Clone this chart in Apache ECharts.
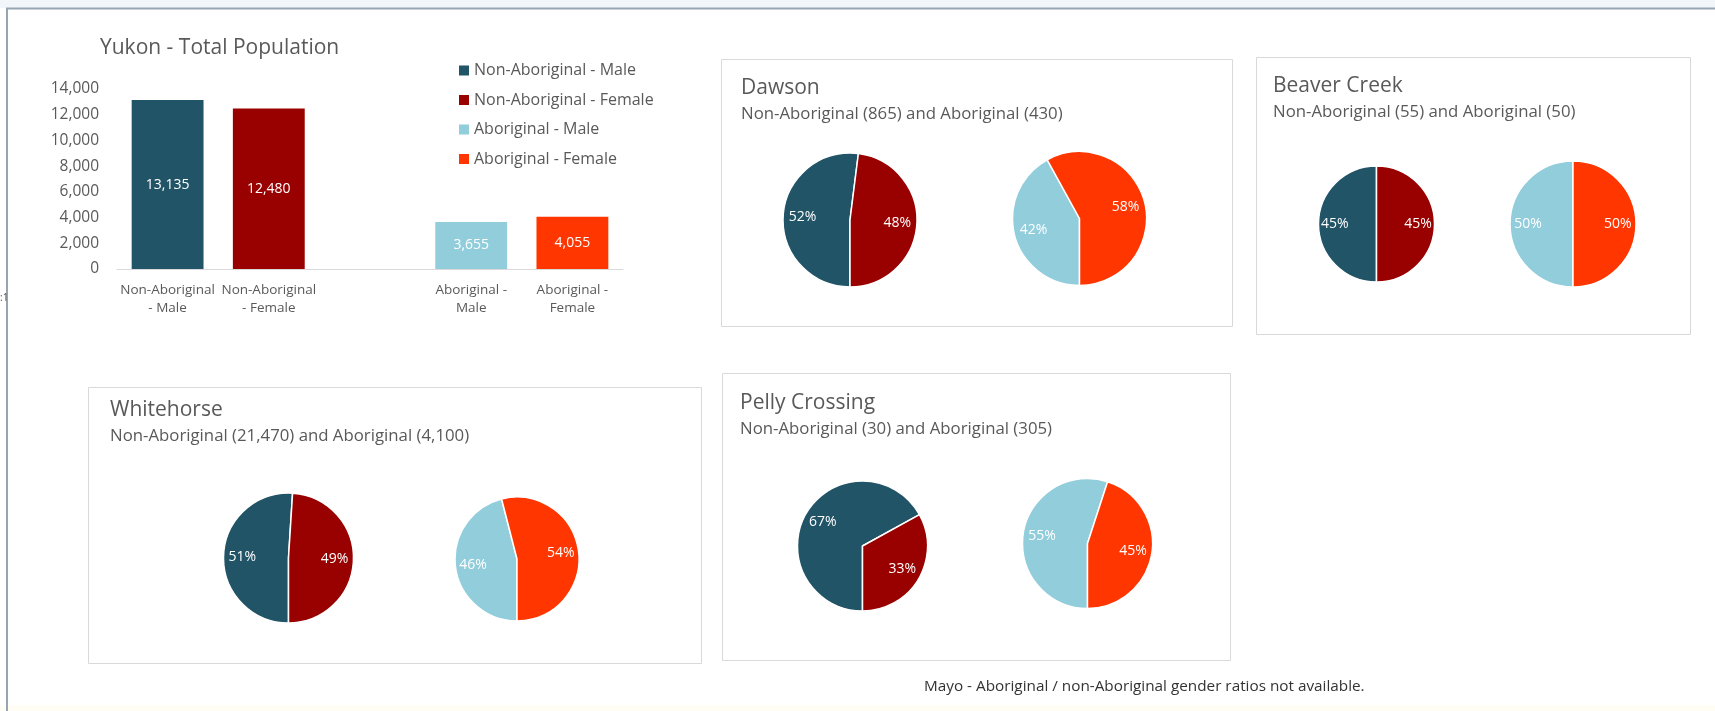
<!DOCTYPE html>
<html><head><meta charset="utf-8">
<script src="https://cdn.jsdelivr.net/npm/echarts@6/dist/echarts.min.js"></script>
<style>html,body{margin:0;padding:0;background:#fff}#c{width:1715px;height:711px}</style>
</head><body><div id="c"></div>
<script>
// ---------- data ----------
const barCategories = ['Non-Aboriginal\n- Male', 'Non-Aboriginal\n- Female', '', 'Aboriginal -\nMale', 'Aboriginal -\nFemale'];
const groupNames = ['Non-Aboriginal - Male', 'Non-Aboriginal - Female', 'Aboriginal - Male', 'Aboriginal - Female'];
const groupSlots = [0, 1, 3, 4];
const yukonTotals = [13135, 12480, 3655, 4055];
const yAxisMax = 14000;
const yAxisStep = 2000;

const communities = ['Whitehorse', 'Dawson', 'Pelly Crossing', 'Beaver Creek'];
const nonAbCounts = [21470, 865, 30, 55];
const abCounts = [4100, 430, 305, 50];
const nonAbMalePct = [51, 52, 67, 45];
const nonAbFemalePct = [49, 48, 33, 45];
const abMalePct = [46, 42, 55, 50];
const abFemalePct = [54, 58, 45, 50];
const mayoNote = 'Mayo - Aboriginal / non-Aboriginal gender ratios not available.';

// ---------- styles / layout ----------
const palette = ['#215467', '#990000', '#92cddc', '#ff3600'];
const FONT = 'Open Sans';
const GRAY = '#595959';
const fmt = v => Number(v).toLocaleString('en-US');

const layout = {
  'Whitehorse':     { box: [88.5, 387.5, 613, 276], title: [110, 398], pies: [[288.5, 558, 65], [517, 559, 62]] },
  'Dawson':         { box: [721.5, 59.5, 511, 267], title: [741, 76],  pies: [[850, 220, 67], [1079.5, 218.5, 67]] },
  'Pelly Crossing': { box: [722.5, 373.5, 508, 287], title: [740, 391], pies: [[862.5, 546, 65], [1087.5, 543.5, 65]] },
  'Beaver Creek':   { box: [1256.5, 57.5, 434, 277], title: [1273, 74], pies: [[1376.5, 224, 58], [1573, 224, 63]] }
};

const titles = [{
  text: 'Yukon - Total Population', left: 100, top: 36, padding: 0,
  textStyle: { fontFamily: FONT, fontSize: 21, fontWeight: 'normal', color: GRAY, lineHeight: 25 }
}];
const graphics = [
  { type: 'rect', shape: { x: 0, y: 0, width: 1715, height: 8 }, style: { fill: '#f2f6fa' }, z: -10 },
  { type: 'rect', shape: { x: 0, y: 705, width: 1715, height: 6 }, style: { fill: '#fffdf4' }, z: -10 },
  { type: 'line', shape: { x1: 6, y1: 8.5, x2: 1715, y2: 8.5 }, style: { stroke: '#97a5b2', lineWidth: 2 }, z: -5 },
  { type: 'line', shape: { x1: 7, y1: 8, x2: 7, y2: 711 }, style: { stroke: '#97a5b2', lineWidth: 2 }, z: -5 },
  { type: 'text', x: 0, y: 293, style: { text: ':1', font: '10px ' + FONT, fill: '#555' } },
  { type: 'text', x: 924, y: 679, style: { text: mayoNote, font: '15.3px ' + FONT, fill: '#333' } }
];
const series = [];

// bar chart
groupNames.forEach((name, i) => {
  series.push({
    name, type: 'bar', stack: 'total', barCategoryGap: '29%',
    xAxisIndex: 0, yAxisIndex: 0,
    data: barCategories.map((_, j) => j === groupSlots[i] ? yukonTotals[i] : null),
    itemStyle: { color: palette[i] },
    label: { show: true, position: 'inside', color: '#fff', fontFamily: FONT, fontSize: 14, formatter: p => fmt(p.value) },
    emphasis: { disabled: true }
  });
});

// pies
communities.forEach((name, k) => {
  const L = layout[name];
  graphics.push({ type: 'rect', shape: { x: L.box[0], y: L.box[1], width: L.box[2], height: L.box[3] },
    style: { fill: '#fff', stroke: '#d9d9d9', lineWidth: 1 }, z: -3 });
  titles.push({
    text: name, subtext: `Non-Aboriginal (${fmt(nonAbCounts[k])}) and Aboriginal (${fmt(abCounts[k])})`,
    left: L.title[0], top: L.title[1], padding: 0, itemGap: 3,
    textStyle: { fontFamily: FONT, fontSize: 21, fontWeight: 'normal', color: GRAY, lineHeight: 25 },
    subtextStyle: { fontFamily: FONT, fontSize: 16.8, color: GRAY, lineHeight: 20 }
  });
  const sets = [
    [[nonAbMalePct[k], nonAbFemalePct[k]], [palette[0], palette[1]], ['Non-Aboriginal - Male', 'Non-Aboriginal - Female']],
    [[abMalePct[k], abFemalePct[k]], [palette[2], palette[3]], ['Aboriginal - Male', 'Aboriginal - Female']]
  ];
  sets.forEach((s, idx) => {
    const [cx, cy, r] = L.pies[idx];
    series.push({
      type: 'pie', center: [cx, cy], radius: r, startAngle: 270, clockwise: true,
      silent: true, legendHoverLink: false,
      data: s[0].map((v, j) => ({ name: s[2][j] + ' ' + name, value: v, itemStyle: { color: s[1][j] } })),
      itemStyle: { borderColor: '#fff', borderWidth: 1.5 },
      label: { show: true, position: 'inside', formatter: '{c}%', color: '#fff', fontFamily: FONT, fontSize: 14 },
      labelLine: { show: false },
      labelLayout: p => {
        const lr = p.labelRect;
        const lx = lr.x + lr.width / 2, ly = lr.y + lr.height / 2;
        return { dx: (lx - cx) * 0.3, dy: (ly - cy) * 0.3 };
      },
      emphasis: { disabled: true }
    });
  });
});

const chart = echarts.init(document.getElementById('c'), null, { renderer: 'canvas' });
chart.setOption({
  animation: false,
  backgroundColor: '#fff',
  textStyle: { fontFamily: FONT },
  title: titles,
  legend: {
    data: groupNames, orient: 'vertical', left: 459, top: 62, itemWidth: 10, itemHeight: 10, itemGap: 12.5,
    icon: 'rect', padding: 0, selectedMode: false,
    textStyle: { fontFamily: FONT, fontSize: 16, color: GRAY, lineHeight: 17 }
  },
  grid: { left: 117, top: 89, width: 506, height: 180, containLabel: false },
  xAxis: {
    type: 'category', data: barCategories,
    axisTick: { show: false },
    axisLine: { lineStyle: { color: '#d9d9d9', width: 1 } },
    axisLabel: { interval: 0, color: GRAY, fontFamily: FONT, fontSize: 13.5, lineHeight: 18, margin: 12 }
  },
  yAxis: {
    type: 'value', min: 0, max: yAxisMax, interval: yAxisStep,
    axisLine: { show: false }, axisTick: { show: false }, splitLine: { show: false },
    axisLabel: { color: GRAY, fontFamily: FONT, fontSize: 15.5, margin: 18, formatter: v => fmt(v) }
  },
  graphic: graphics,
  series
});
</script></body></html>
